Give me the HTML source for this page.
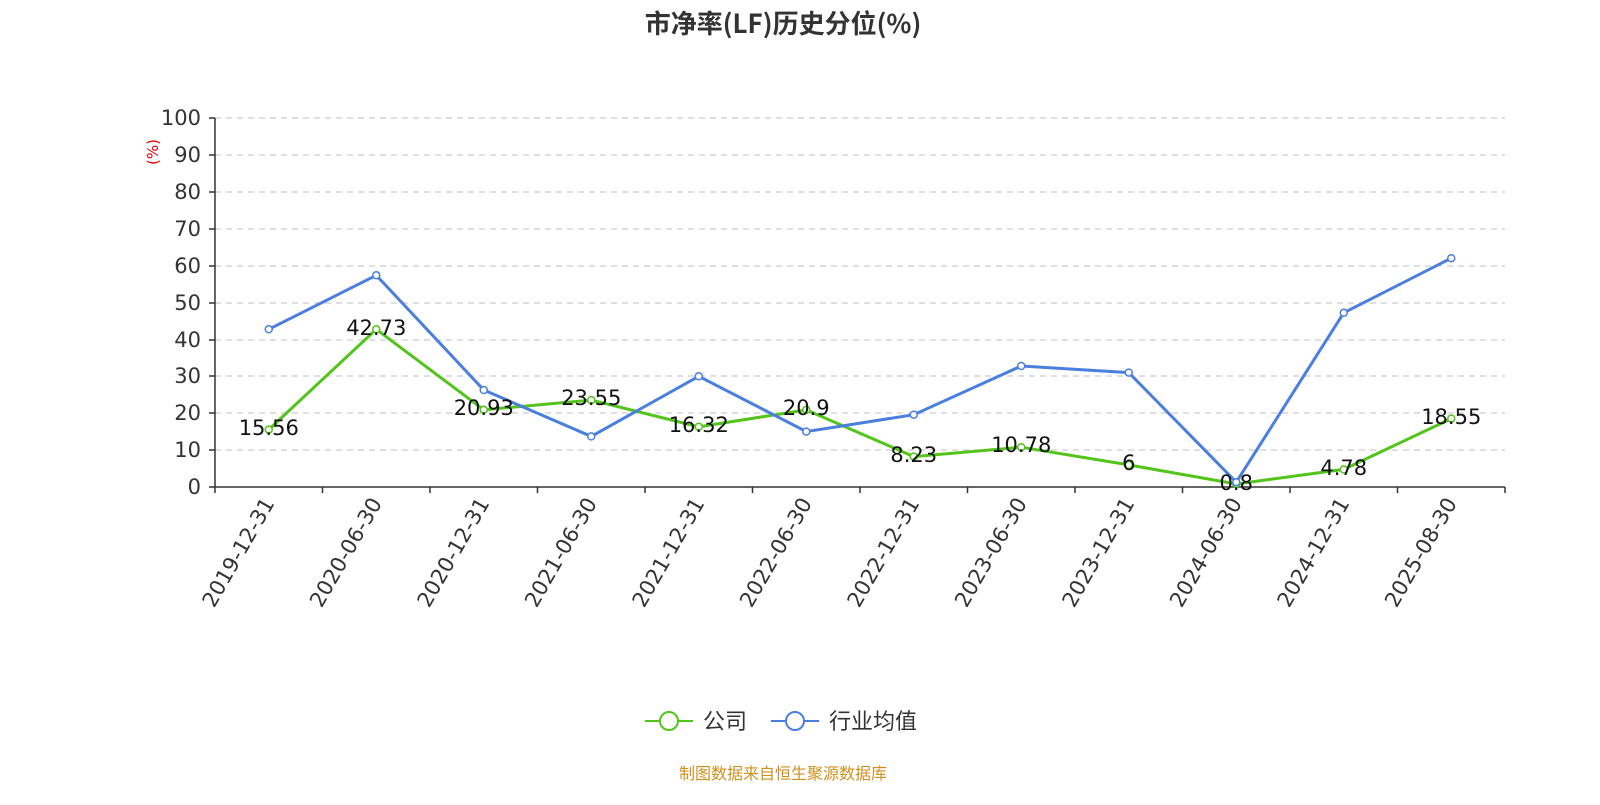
<!DOCTYPE html>
<html><head><meta charset="utf-8"><style>
body{margin:0;background:#fff;}
svg text{font-family:"DejaVu Sans","Noto Sans CJK SC",sans-serif;}
</style></head><body>
<svg width="1600" height="800" xmlns="http://www.w3.org/2000/svg">
<rect width="1600" height="800" fill="#fff"/>
<text x="783" y="33" font-size="26" font-weight="bold" text-anchor="middle" fill="#333" style="font-family:'Noto Sans CJK SC',sans-serif">市净率(LF)历史分位(%)</text>
<g stroke="#ccc" stroke-dasharray="6,5" stroke-width="1.3">
<line x1="215" x2="1505" y1="118" y2="118"/><line x1="215" x2="1505" y1="155" y2="155"/>
<line x1="215" x2="1505" y1="192" y2="192"/><line x1="215" x2="1505" y1="229" y2="229"/>
<line x1="215" x2="1505" y1="266" y2="266"/><line x1="215" x2="1505" y1="303" y2="303"/>
<line x1="215" x2="1505" y1="340" y2="340"/><line x1="215" x2="1505" y1="376" y2="376"/>
<line x1="215" x2="1505" y1="413" y2="413"/><line x1="215" x2="1505" y1="450" y2="450"/>
</g>
<g stroke="#333" stroke-width="1.5">
<line x1="215" x2="215" y1="118" y2="487"/><line x1="215" x2="1505" y1="487" y2="487"/>
<line x1="209" x2="215" y1="118" y2="118"/><line x1="209" x2="215" y1="155" y2="155"/><line x1="209" x2="215" y1="192" y2="192"/><line x1="209" x2="215" y1="229" y2="229"/><line x1="209" x2="215" y1="266" y2="266"/><line x1="209" x2="215" y1="303" y2="303"/><line x1="209" x2="215" y1="340" y2="340"/><line x1="209" x2="215" y1="376" y2="376"/><line x1="209" x2="215" y1="413" y2="413"/><line x1="209" x2="215" y1="450" y2="450"/><line x1="209" x2="215" y1="487" y2="487"/>
<line x1="215" x2="215" y1="487" y2="493"/><line x1="322.5" x2="322.5" y1="487" y2="493"/><line x1="430" x2="430" y1="487" y2="493"/><line x1="537.5" x2="537.5" y1="487" y2="493"/><line x1="645" x2="645" y1="487" y2="493"/><line x1="752.5" x2="752.5" y1="487" y2="493"/><line x1="860" x2="860" y1="487" y2="493"/><line x1="967.5" x2="967.5" y1="487" y2="493"/><line x1="1075" x2="1075" y1="487" y2="493"/><line x1="1182.5" x2="1182.5" y1="487" y2="493"/><line x1="1290" x2="1290" y1="487" y2="493"/><line x1="1397.5" x2="1397.5" y1="487" y2="493"/><line x1="1505" x2="1505" y1="487" y2="493"/>
</g>
<g font-size="21" fill="#333" text-anchor="end">
<text x="201" y="125">100</text><text x="201" y="162">90</text><text x="201" y="199">80</text><text x="201" y="236">70</text><text x="201" y="273">60</text><text x="201" y="310">50</text><text x="201" y="347">40</text><text x="201" y="383">30</text><text x="201" y="420">20</text><text x="201" y="457">10</text><text x="201" y="494">0</text>
</g>
<text transform="translate(158,152) rotate(-90)" font-size="15" fill="#e00" text-anchor="middle">(%)</text>
<g font-size="21" fill="#333" text-anchor="end">
<text transform="translate(275,503) rotate(-60)">2019-12-31</text>
<text transform="translate(382.5,503) rotate(-60)">2020-06-30</text>
<text transform="translate(490,503) rotate(-60)">2020-12-31</text>
<text transform="translate(597.5,503) rotate(-60)">2021-06-30</text>
<text transform="translate(705,503) rotate(-60)">2021-12-31</text>
<text transform="translate(812.5,503) rotate(-60)">2022-06-30</text>
<text transform="translate(920,503) rotate(-60)">2022-12-31</text>
<text transform="translate(1027.5,503) rotate(-60)">2023-06-30</text>
<text transform="translate(1135,503) rotate(-60)">2023-12-31</text>
<text transform="translate(1242.5,503) rotate(-60)">2024-06-30</text>
<text transform="translate(1350,503) rotate(-60)">2024-12-31</text>
<text transform="translate(1457.5,503) rotate(-60)">2025-08-30</text>
</g>
<polyline fill="none" stroke="#52c41a" stroke-width="3" points="268.75,429.6 376.25,329.3 483.75,409.8 591.25,400.1 698.75,426.8 806.25,409.9 913.75,456.6 1021.25,447.2 1128.75,464.9 1236.25,484.0 1343.75,469.4 1451.25,418.6"/>
<polyline fill="none" stroke="#4a7fe0" stroke-width="3" points="268.75,329.3 376.25,275.3 483.75,390.0 591.25,436.4 698.75,376.3 806.25,431.6 913.75,414.7 1021.25,366.0 1128.75,372.6 1236.25,482.2 1343.75,312.8 1451.25,258.2"/>
<g fill="#fff" stroke="#52c41a" stroke-width="1.5">
<circle cx="268.75" cy="429.6" r="3.5"/><circle cx="376.25" cy="329.3" r="3.5"/><circle cx="483.75" cy="409.8" r="3.5"/><circle cx="591.25" cy="400.1" r="3.5"/><circle cx="698.75" cy="426.8" r="3.5"/><circle cx="806.25" cy="409.9" r="3.5"/><circle cx="913.75" cy="456.6" r="3.5"/><circle cx="1021.25" cy="447.2" r="3.5"/><circle cx="1128.75" cy="464.9" r="3.5"/><circle cx="1236.25" cy="484.0" r="3.5"/><circle cx="1343.75" cy="469.4" r="3.5"/><circle cx="1451.25" cy="418.6" r="3.5"/>
</g>
<g fill="#fff" stroke="#4a7fe0" stroke-width="1.5">
<circle cx="268.75" cy="329.3" r="3.5"/><circle cx="376.25" cy="275.3" r="3.5"/><circle cx="483.75" cy="390.0" r="3.5"/><circle cx="591.25" cy="436.4" r="3.5"/><circle cx="698.75" cy="376.3" r="3.5"/><circle cx="806.25" cy="431.6" r="3.5"/><circle cx="913.75" cy="414.7" r="3.5"/><circle cx="1021.25" cy="366.0" r="3.5"/><circle cx="1128.75" cy="372.6" r="3.5"/><circle cx="1236.25" cy="482.2" r="3.5"/><circle cx="1343.75" cy="312.8" r="3.5"/><circle cx="1451.25" cy="258.2" r="3.5"/>
</g>
<g font-size="21" fill="#111" text-anchor="middle">
<text x="268.75" y="435">15.56</text><text x="376.25" y="335">42.73</text><text x="483.75" y="415">20.93</text><text x="591.25" y="405">23.55</text><text x="698.75" y="432">16.32</text><text x="806.25" y="415">20.9</text><text x="913.75" y="462">8.23</text><text x="1021.25" y="452">10.78</text><text x="1128.75" y="470">6</text><text x="1236.25" y="490">0.8</text><text x="1343.75" y="475">4.78</text><text x="1451.25" y="424">18.55</text>
</g>
<line x1="645" x2="693" y1="721" y2="721" stroke="#52c41a" stroke-width="2"/>
<circle cx="669" cy="721" r="9" fill="#fff" stroke="#52c41a" stroke-width="2"/>
<text x="703" y="729" font-size="22" fill="#333">公司</text>
<line x1="771" x2="819" y1="721" y2="721" stroke="#4a7fe0" stroke-width="2"/>
<circle cx="795" cy="721" r="9" fill="#fff" stroke="#4a7fe0" stroke-width="2"/>
<text x="829" y="729" font-size="22" fill="#333">行业均值</text>
<text x="783" y="779" font-size="16" fill="#d09020" text-anchor="middle">制图数据来自恒生聚源数据库</text>
</svg>
</body></html>
